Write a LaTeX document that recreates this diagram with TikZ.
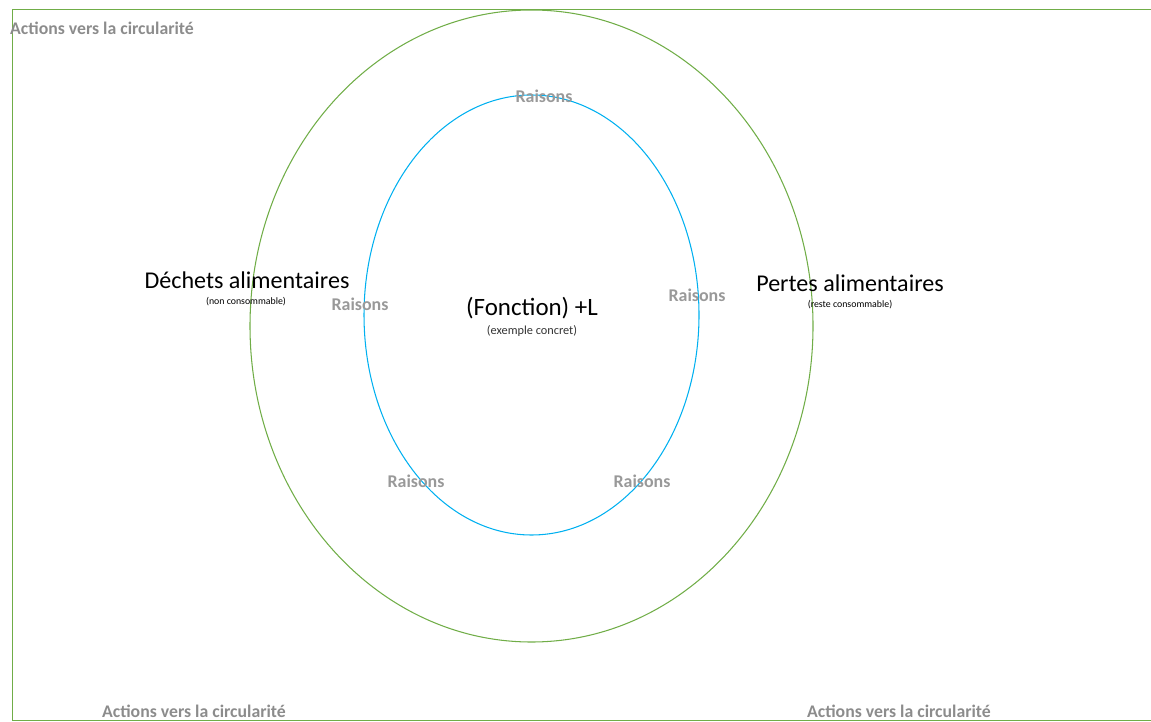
\documentclass[tikz,border=0pt]{standalone}
\usepackage{fontspec}
\setmainfont{Carlito}
\usetikzlibrary{calc}
\definecolor{framegreen}{RGB}{112,173,71}
\definecolor{ringblue}{RGB}{0,176,240}
\tikzset{
  raison/.style={text=black!40, font=\bfseries\fontsize{10.2}{11}\selectfont},
  action/.style={text=black!45, font=\bfseries\fontsize{10.1}{11}\selectfont},
  titre/.style={font=\fontsize{13.7}{15}\selectfont},
  petit/.style={font=\fontsize{5.6}{6}\selectfont}
}

\begin{document}
\begin{tikzpicture}[x=0.02cm, y=-0.02cm]
			%%%%% START %%%%%
			\useasboundingbox (0, 0) rectangle (1151, 722);
			
			\draw[line width=0.5pt, color=framegreen] (12, 720) -- (12, 9) -- (1160, 9);
			\draw[line width=0.5pt, color=framegreen] (12, 720) -- (1160, 720);
			
			\draw[line width=0.6pt, color=framegreen] (531.5, 326) ellipse (281.5 and 316);
			\draw[line width=0.6pt, color=ringblue] (531.5, 315) ellipse (167.5 and 220);
			
			\node[action, anchor=west] (act1) at (4, 28) {Actions vers la circularité};
			\node[action] (act2) at (194, 711) {Actions vers la circularité};
			\node[action] (act3) at (899, 711) {Actions vers la circularité};
			
			\node[titre] (dechets) at (247, 280) {Déchets alimentaires};
			\node[petit] (dechets2) at (246, 302) {(non consommable)};
			\node[titre] (pertes) at (850, 283) {Pertes alimentaires};
			\node[petit] (pertes2) at (850, 305) {(reste consommable)};
			
			\node[font=\fontsize{14.2}{15}\selectfont] (fonction) at (532, 308) {(Fonction) +L};
			\node[font=\fontsize{7}{8}\selectfont, text=black!80] (exemple) at (532, 331) {(exemple concret)};
			
			\node[raison] (r1) at (544, 96) {Raisons};
			\node[raison] (r2) at (360, 304) {Raisons};
			\node[raison] (r3) at (697, 295) {Raisons};
			\node[raison] (r4) at (416, 481) {Raisons};
			\node[raison] (r5) at (642, 481) {Raisons};
			
			%%%%% END %%%%%
\end{tikzpicture}
\end{document}
